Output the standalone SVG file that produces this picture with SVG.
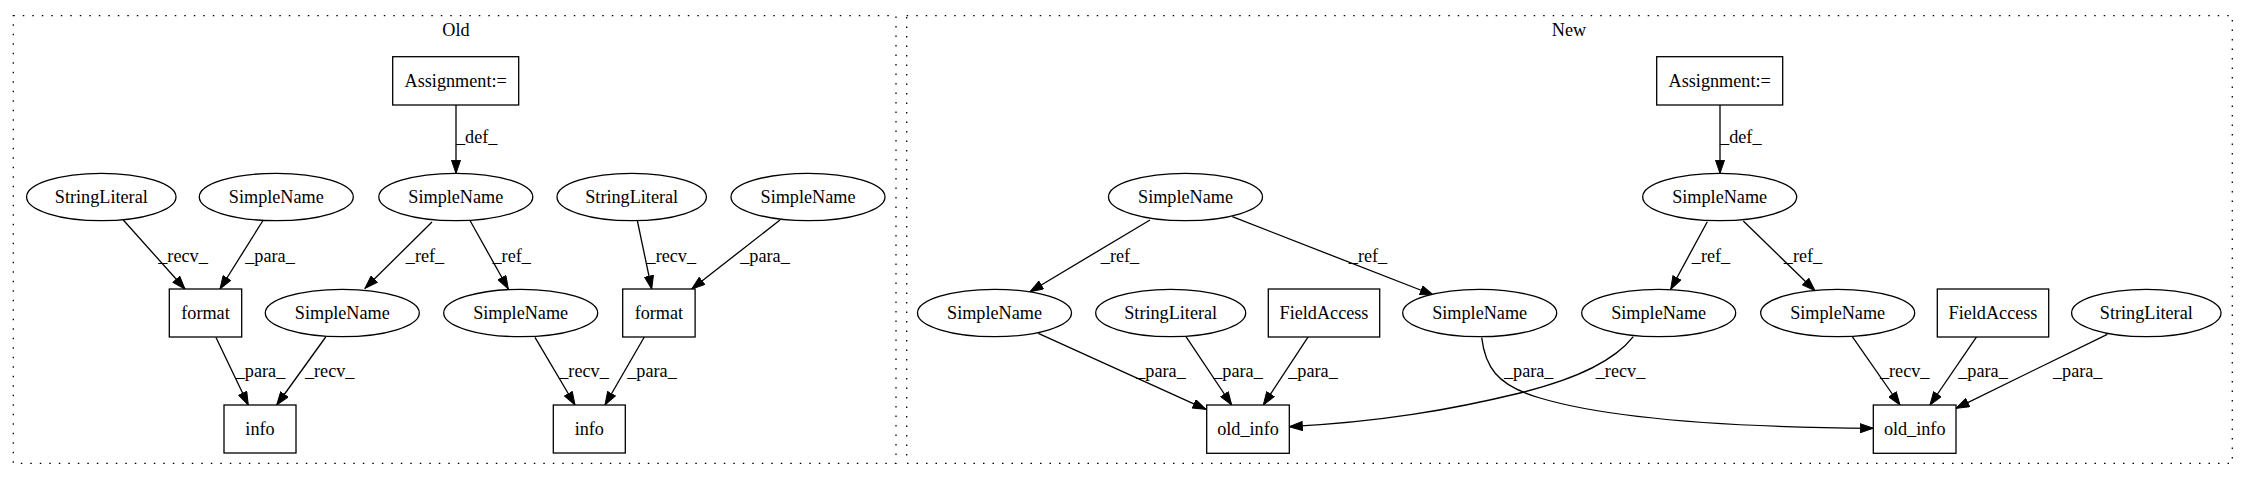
<svg xmlns="http://www.w3.org/2000/svg" width="2248" height="480" viewBox="0 0 2248 480">
<style>
text{font-family:"Liberation Serif","Times New Roman",serif;font-size:18.2px;fill:#000;text-anchor:middle}
.n{fill:#fff;stroke:#000;stroke-width:1.3}
.c{fill:none;stroke:#000;stroke-width:1.3;stroke-dasharray:1.5,8}
.e{fill:none;stroke:#000;stroke-width:1.3;marker-end:url(#ah)}
</style>
<defs>
<marker id="ah" markerUnits="userSpaceOnUse" markerWidth="14" markerHeight="10" viewBox="0 0 14 10" refX="13.5" refY="5" orient="auto">
<path d="M0.5,0.5 L13.5,5 L0.5,9.5 Z" fill="#000" stroke="#000" stroke-width="1"/>
</marker>
</defs>
<rect width="2248" height="480" fill="#fff"/>

<g id="cluster_old">
<rect class="c" x="13.3" y="15.7" width="882.7" height="447.6"/>
<text x="456" y="36">Old</text>
</g>
<g id="cluster_new">
<rect class="c" x="906.7" y="15.7" width="1325.6" height="447.6"/>
<text x="1569" y="36">New</text>
</g>

<g id="edges">
<path class="e" d="M456,105 L456,173.3"/>
<path class="e" d="M123.3,220 L185,289"/>
<path class="e" d="M263.3,220 L220,289"/>
<path class="e" d="M432,222 L365,288.3"/>
<path class="e" d="M470,220.5 L508.3,289"/>
<path class="e" d="M637.3,220.5 L651.7,289"/>
<path class="e" d="M780,220 L691.7,289"/>
<path class="e" d="M216,337.5 L248.3,405"/>
<path class="e" d="M325.7,337 L276.7,405"/>
<path class="e" d="M535,337.3 L575,405"/>
<path class="e" d="M644.3,337 L605,405"/>

<path class="e" d="M1720,105 L1720,173.3"/>
<path class="e" d="M1150,220 L1030,291.7"/>
<path class="e" d="M1232.3,216.7 L1433.3,295"/>
<path class="e" d="M1707.3,221.7 L1670.7,289.3"/>
<path class="e" d="M1743.3,221 L1815,290.7"/>
<path class="e" d="M1038.3,333.3 L1206,409.3"/>
<path class="e" d="M1186,336.7 L1231.7,405"/>
<path class="e" d="M1308.3,336.7 L1263.3,405"/>
<path class="e" d="M1481.7,337.7 C1485,365 1495,385 1540,398 C1600,416 1700,427 1873.3,428.3"/>
<path class="e" d="M1633.3,336.7 C1615,360 1580,378 1520,393 C1450,410 1380,422 1289.3,426.7"/>
<path class="e" d="M1852.3,336.7 L1900,405"/>
<path class="e" d="M1976.7,336.7 L1930,405"/>
<path class="e" d="M2107.3,334.3 L1956,408.3"/>

<text x="476.7" y="143">_def_</text>
<text x="183" y="262">_recv_</text>
<text x="270" y="262">_para_</text>
<text x="425" y="262">_ref_</text>
<text x="511.7" y="262">_ref_</text>
<text x="671.3" y="262">_recv_</text>
<text x="765" y="262">_para_</text>
<text x="260.5" y="377">_para_</text>
<text x="329.7" y="377">_recv_</text>
<text x="584" y="377">_recv_</text>
<text x="652" y="377">_para_</text>

<text x="1740.8" y="143">_def_</text>
<text x="1120" y="262">_ref_</text>
<text x="1368" y="262">_ref_</text>
<text x="1711" y="262">_ref_</text>
<text x="1803" y="262">_ref_</text>
<text x="1161" y="377">_para_</text>
<text x="1238" y="377">_para_</text>
<text x="1313" y="377">_para_</text>
<text x="1528.7" y="377">_para_</text>
<text x="1620.5" y="377">_recv_</text>
<text x="1904.7" y="377">_recv_</text>
<text x="1983" y="377">_para_</text>
<text x="2077.7" y="377">_para_</text>
</g>

<g id="old_assign"><rect class="n" x="392.7" y="56.7" width="126" height="48.3"/><text x="455.7" y="87">Assignment:=</text></g>
<g id="old_sl1"><ellipse class="n" cx="101.3" cy="197" rx="74.7" ry="23.7"/><text x="101.3" y="203">StringLiteral</text></g>
<g id="old_sn1"><ellipse class="n" cx="276.3" cy="197" rx="77" ry="23.7"/><text x="276.3" y="203">SimpleName</text></g>
<g id="old_sn2"><ellipse class="n" cx="455.8" cy="197" rx="77" ry="23.7"/><text x="455.8" y="203">SimpleName</text></g>
<g id="old_sl2"><ellipse class="n" cx="631.7" cy="197" rx="74.7" ry="23.7"/><text x="631.7" y="203">StringLiteral</text></g>
<g id="old_sn3"><ellipse class="n" cx="808" cy="197" rx="77" ry="23.7"/><text x="808" y="203">SimpleName</text></g>
<g id="old_format1"><rect class="n" x="169.3" y="289" width="72.4" height="48"/><text x="205.5" y="319">format</text></g>
<g id="old_sn4"><ellipse class="n" cx="342.3" cy="313" rx="77" ry="23.7"/><text x="342.3" y="319">SimpleName</text></g>
<g id="old_sn5"><ellipse class="n" cx="520.7" cy="313" rx="77" ry="23.7"/><text x="520.7" y="319">SimpleName</text></g>
<g id="old_format2"><rect class="n" x="622.7" y="289" width="72.4" height="48"/><text x="658.9" y="319">format</text></g>
<g id="old_info1"><rect class="n" x="224" y="405" width="72" height="48"/><text x="260" y="435">info</text></g>
<g id="old_info2"><rect class="n" x="553.3" y="405" width="72" height="48"/><text x="589.3" y="435">info</text></g>

<g id="new_assign"><rect class="n" x="1656.7" y="56.7" width="126" height="48.3"/><text x="1719.7" y="87">Assignment:=</text></g>
<g id="new_sn1"><ellipse class="n" cx="1185.5" cy="197" rx="77" ry="23.7"/><text x="1185.5" y="203">SimpleName</text></g>
<g id="new_sn2"><ellipse class="n" cx="1719.7" cy="197" rx="77" ry="23.7"/><text x="1719.7" y="203">SimpleName</text></g>
<g id="new_sn3"><ellipse class="n" cx="994.5" cy="313" rx="77" ry="23.7"/><text x="994.5" y="319">SimpleName</text></g>
<g id="new_sl1"><ellipse class="n" cx="1170.7" cy="313" rx="75" ry="23.7"/><text x="1170.7" y="319">StringLiteral</text></g>
<g id="new_fa1"><rect class="n" x="1268.3" y="289" width="111.4" height="48"/><text x="1324" y="319">FieldAccess</text></g>
<g id="new_sn4"><ellipse class="n" cx="1479.7" cy="313" rx="77" ry="23.7"/><text x="1479.7" y="319">SimpleName</text></g>
<g id="new_sn5"><ellipse class="n" cx="1658.7" cy="313" rx="77" ry="23.7"/><text x="1658.7" y="319">SimpleName</text></g>
<g id="new_sn6"><ellipse class="n" cx="1837.7" cy="313" rx="77" ry="23.7"/><text x="1837.7" y="319">SimpleName</text></g>
<g id="new_fa2"><rect class="n" x="1937.3" y="289" width="111.4" height="48"/><text x="1993" y="319">FieldAccess</text></g>
<g id="new_sl2"><ellipse class="n" cx="2146.3" cy="313" rx="74.7" ry="23.7"/><text x="2146.3" y="319">StringLiteral</text></g>
<g id="new_oldinfo1"><rect class="n" x="1206.7" y="405" width="82.6" height="48.3"/><text x="1248" y="435">old_info</text></g>
<g id="new_oldinfo2"><rect class="n" x="1873.3" y="405" width="82.7" height="48.3"/><text x="1914.7" y="435">old_info</text></g>
</svg>
